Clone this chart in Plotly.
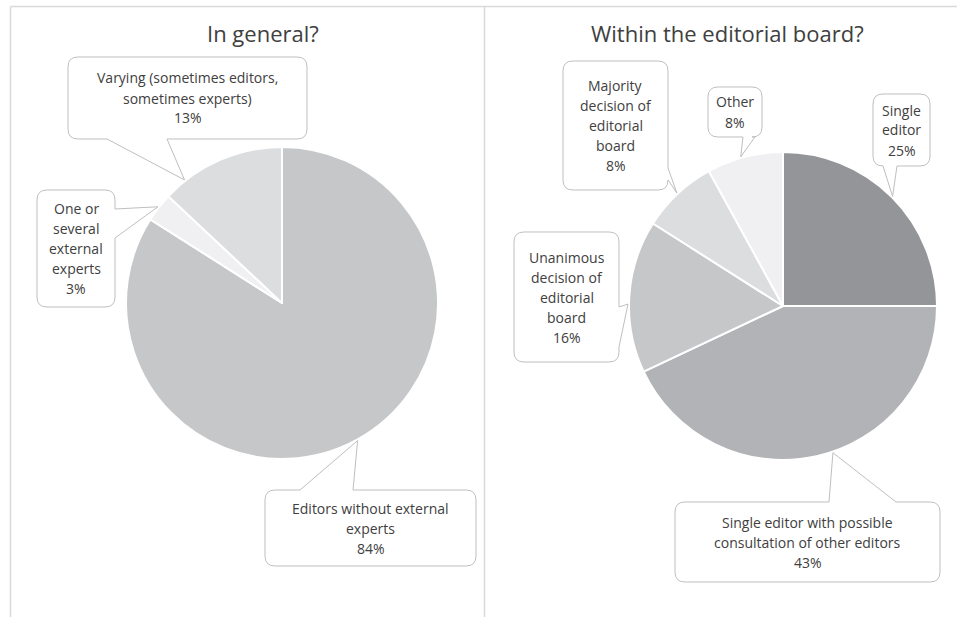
import math
import plotly.graph_objects as go

W, H = 957, 617

# ---- data -------------------------------------------------------------
general_title = "In general?"
general_labels = [
    "Editors without external experts",
    "One or several external experts",
    "Varying (sometimes editors, sometimes experts)",
]
general_values = [84, 3, 13]
general_wrapped = [
    ["Editors without external", "experts"],
    ["One or", "several", "external", "experts"],
    ["Varying (sometimes editors,", "sometimes experts)"],
]

board_title = "Within the editorial board?"
board_labels = [
    "Single editor",
    "Single editor with possible consultation of other editors",
    "Unanimous decision of editorial board",
    "Majority decision of editorial board",
    "Other",
]
board_values = [25, 43, 16, 8, 8]
board_wrapped = [
    ["Single", "editor"],
    ["Single editor with possible", "consultation of other editors"],
    ["Unanimous", "decision of", "editorial", "board"],
    ["Majority", "decision of", "editorial", "board"],
    ["Other"],
]

# ---- styling / layout (pixels) -----------------------------------------
general_colors = ["#c6c7c9", "#f0f0f2", "#dcdddf"]
board_colors = ["#949598", "#b2b3b6", "#c6c7c9", "#dcdddf", "#f0f0f2"]
TEXT = "#404040"
FONT = "Open Sans"
BOX_LINE = "#bfbfbf"
FRAME = "#d9d9d9"

general_geom = dict(cx=282, cy=303, r=156)
board_geom = dict(cx=783, cy=306, r=154)

# callout box: rectangle, side carrying the wedge, wedge base span, anchor position inside slice
general_callouts = [
    dict(box=(265, 490, 476, 566), side="top", base=(300, 353), f=0.5),
    dict(box=(37, 190, 115, 307), side="right", base=(209, 238), f=0.5),
    dict(box=(68, 57, 307, 139), side="bottom", base=(107, 167), f=0.18),
]
board_callouts = [
    dict(box=(873, 94, 930, 166), side="bottom", base=(883, 897), f=0.5),
    dict(box=(675, 502, 940, 582), side="top", base=(829, 896), f=0.46),
    dict(box=(514, 232, 619, 362), side="right", base=(307, 347), f=0.45),
    dict(box=(563, 61, 668, 190), side="right", base=(168, 180), f=0.5),
    dict(box=(708, 87, 762, 137), side="bottom", base=(743, 755), f=0.45),
]


def px(x, y):
    return x / W, 1 - y / H


def pt(x, y):
    a, b = px(x, y)
    return f"{a:.5f},{b:.5f}"


def domain(g):
    return dict(
        x=[(g["cx"] - g["r"]) / W, (g["cx"] + g["r"]) / W],
        y=[(H - g["cy"] - g["r"]) / H, (H - g["cy"] + g["r"]) / H],
    )


def slice_point(g, values, i, f):
    total = sum(values)
    start = sum(values[:i])
    theta = 2 * math.pi * (start + f * values[i]) / total
    R = g["r"] + 1
    return g["cx"] + R * math.sin(theta), g["cy"] - R * math.cos(theta)


def callout_path(box, side, base, tip, rad=10):
    x0, y0, x1, y1 = box
    lo, hi = min(base), max(base)
    p = [f"M{pt(x0 + rad, y0)}"]
    if side == "top":
        p += [f"L{pt(lo, y0)}", f"L{pt(*tip)}", f"L{pt(hi, y0)}"]
    p += [f"L{pt(x1 - rad, y0)}", f"Q{pt(x1, y0)} {pt(x1, y0 + rad)}"]
    if side == "right":
        p += [f"L{pt(x1, lo)}", f"L{pt(*tip)}", f"L{pt(x1, hi)}"]
    p += [f"L{pt(x1, y1 - rad)}", f"Q{pt(x1, y1)} {pt(x1 - rad, y1)}"]
    if side == "bottom":
        p += [f"L{pt(hi, y1)}", f"L{pt(*tip)}", f"L{pt(lo, y1)}"]
    p += [f"L{pt(x0 + rad, y1)}", f"Q{pt(x0, y1)} {pt(x0, y1 - rad)}"]
    if side == "left":
        p += [f"L{pt(x0, hi)}", f"L{pt(*tip)}", f"L{pt(x0, lo)}"]
    p += [f"L{pt(x0, y0 + rad)}", f"Q{pt(x0, y0)} {pt(x0 + rad, y0)}", "Z"]
    return " ".join(p)


fig = go.Figure()

for labels, values, colors, geom in [
    (general_labels, general_values, general_colors, general_geom),
    (board_labels, board_values, board_colors, board_geom),
]:
    fig.add_trace(
        go.Pie(
            labels=labels,
            values=values,
            sort=False,
            direction="clockwise",
            rotation=0,
            marker=dict(colors=colors, line=dict(color="white", width=2)),
            textinfo="none",
            hoverinfo="label+percent",
            showlegend=False,
            domain=domain(geom),
        )
    )

shapes = []
annotations = []

# panel frames
for x0, y0, x1, y1 in [(10.5, 6.5, 10.5, H), (10.5, 6.5, W, 6.5), (484.5, 6.5, 484.5, H)]:
    a0, b0 = px(x0, y0)
    a1, b1 = px(x1, y1)
    shapes.append(dict(type="line", xref="paper", yref="paper", x0=a0, y0=b0, x1=a1, y1=b1,
                       line=dict(color=FRAME, width=1.5)))

# callouts
for values, wrapped, callouts, geom in [
    (general_values, general_wrapped, general_callouts, general_geom),
    (board_values, board_wrapped, board_callouts, board_geom),
]:
    total = sum(values)
    for i, c in enumerate(callouts):
        tip = slice_point(geom, values, i, c["f"])
        shapes.append(dict(type="path", xref="paper", yref="paper",
                           path=callout_path(c["box"], c["side"], c["base"], tip),
                           fillcolor="white", line=dict(color=BOX_LINE, width=1)))
        lines = wrapped[i] + [f"{round(100 * values[i] / total)}%"]
        x0, y0, x1, y1 = c["box"]
        xc, yc = (x0 + x1) / 2, (y0 + y1) / 2
        n = len(lines)
        for k, txt in enumerate(lines):
            ax, ay = px(xc, yc + (k - (n - 1) / 2) * 20)
            annotations.append(dict(x=ax, y=ay, xref="paper", yref="paper", text=txt,
                                    showarrow=False, xanchor="center", yanchor="middle",
                                    font=dict(family=FONT, size=14, color=TEXT)))

# titles
for title, (tx, ty) in [(general_title, (263, 33)), (board_title, (727, 33))]:
    ax, ay = px(tx, ty)
    annotations.append(dict(x=ax, y=ay, xref="paper", yref="paper", text=title,
                            showarrow=False, xanchor="center", yanchor="middle",
                            font=dict(family=FONT, size=22, color=TEXT)))

fig.update_layout(
    width=W,
    height=H,
    margin=dict(l=0, r=0, t=0, b=0),
    paper_bgcolor="white",
    plot_bgcolor="white",
    shapes=shapes,
    annotations=annotations,
)

fig.write_html("out.html")
